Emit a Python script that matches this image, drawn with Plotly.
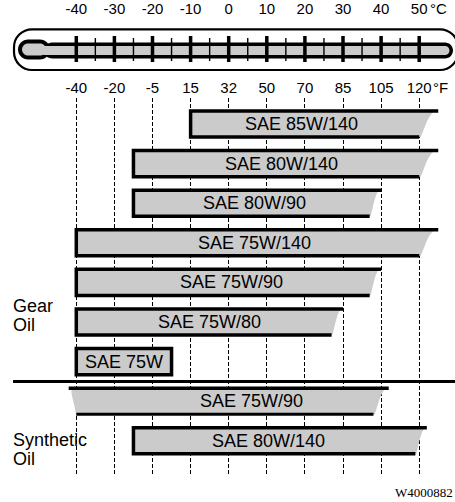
import plotly.graph_objects as go

# ---------------- data ----------------
celsius_ticks = [-40, -30, -20, -10, 0, 10, 20, 30, 40, 50]
celsius_labels = ["-40", "-30", "-20", "-10", "0", "10", "20", "30", "40", "50"]
fahrenheit_labels = ["-40", "-20", "-5", "15", "32", "50", "70", "85", "105", "120"]
minor_celsius = [-35, -25, -15, -5, 5, 15, 25, 35, 45]

gear_grades = ["SAE 85W/140", "SAE 80W/140", "SAE 80W/90", "SAE 75W/140",
               "SAE 75W/90", "SAE 75W/80", "SAE 75W"]
gear_low_c = [-10, -25, -25, -40, -40, -40, -40]
gear_high_c = [50, 50, 37, 50, 37, 27, -15]
gear_open_high_c = [55, 55, 40, 55, 40, 30, None]   # torn (open-ended) top edge

synthetic_grades = ["SAE 75W/90", "SAE 80W/140"]
synthetic_low_c = [-40, -25]
synthetic_high_c = [38, 49]
synthetic_open_high_c = [42, 52]
synthetic_open_low_c = [-42, None]

# ---------------- layout helpers ----------------
W, H = 455, 502
C0_PX, PX_PER_C = 228.7, 3.81
XMIN = -C0_PX / PX_PER_C
XMAX = (W - C0_PX) / PX_PER_C
ROW0_PX, ROW_STEP = 124.0, 39.6
PLOT_TOP, PLOT_BOT = 98, 476
HALF = 0.33
GRAY = "#cbcbcb"
FONT = "Liberation Sans, Arial, Helvetica, sans-serif"


def pxx(x):
    return x / W


def pxy(y):
    return 1 - y / H


def rounded(x0, x1, y0, y1, r):
    """rounded rectangle in paper coordinates, given pixel extents"""
    k = 0.5523 * r
    pts = [
        ("M", [(x0 + r, y0)]),
        ("L", [(x1 - r, y0)]),
        ("C", [(x1 - r + k, y0), (x1, y0 + r - k), (x1, y0 + r)]),
        ("L", [(x1, y1 - r)]),
        ("C", [(x1, y1 - r + k), (x1 - r + k, y1), (x1 - r, y1)]),
        ("L", [(x0 + r, y1)]),
        ("C", [(x0 + r - k, y1), (x0, y1 - r + k), (x0, y1 - r)]),
        ("L", [(x0, y0 + r)]),
        ("C", [(x0, y0 + r - k), (x0 + r - k, y0), (x0 + r, y0)]),
    ]
    s = ""
    for cmd, ps in pts:
        s += cmd + " " + " ".join(f"{pxx(a):.5f},{pxy(b):.5f}" for a, b in ps) + " "
    return s + "Z"


shapes = []
annotations = []

# ---------------- thermometer ----------------
shapes.append(dict(type="path", xref="paper", yref="paper",
                   path=rounded(14, 458, 29.3, 70, 18),
                   line=dict(color="black", width=2.2), fillcolor="white"))
# black outlines of bulb + tube
shapes.append(dict(type="path", xref="paper", yref="paper",
                   path=rounded(18, 50, 39.5, 59.5, 10), line=dict(width=0), fillcolor="black"))
shapes.append(dict(type="path", xref="paper", yref="paper",
                   path=rounded(44, 453, 42.5, 58.5, 8), line=dict(width=0), fillcolor="black"))
# gray interiors
shapes.append(dict(type="path", xref="paper", yref="paper",
                   path=rounded(22, 46, 43.5, 55.5, 6), line=dict(width=0), fillcolor=GRAY))
shapes.append(dict(type="path", xref="paper", yref="paper",
                   path=rounded(40, 449.5, 46, 55, 4.5), line=dict(width=0), fillcolor=GRAY))
for c in celsius_ticks:
    shapes.append(dict(type="line", xref="x", yref="paper", x0=c, x1=c,
                       y0=pxy(36), y1=pxy(62), line=dict(color="black", width=3.5)))
for c in minor_celsius:
    shapes.append(dict(type="line", xref="x", yref="paper", x0=c, x1=c,
                       y0=pxy(38), y1=pxy(61), line=dict(color="black", width=1.4)))


# ---------------- bars ----------------
def torn_right(x_open, x_high, yt, yb):
    d = x_open - x_high
    h = yb - yt
    return (f"L {x_open - 0.2 * d},{yt} "
            f"C {x_open - 0.55 * d},{yt + 0.2 * h} {x_open - 0.65 * d},{yt + 0.55 * h} "
            f"{x_open - 0.92 * d},{yb} ")


label_shift_px = [-3, 5, 3, 7, 9, 6, 0, 27, -6]

all_grades = gear_grades + synthetic_grades
all_low = gear_low_c + synthetic_low_c
all_high = gear_high_c + synthetic_high_c
all_open_high = gear_open_high_c + synthetic_open_high_c
all_open_low = [None] * len(gear_grades) + synthetic_open_low_c

for i, (g, lo, hi, oh, ol) in enumerate(zip(all_grades, all_low, all_high,
                                           all_open_high, all_open_low)):
    row = i
    yt, yb = row - HALF, row + HALF
    line = dict(color="black", width=3.5)
    if oh is None:
        # closed box
        shapes.append(dict(type="rect", xref="x", yref="y", x0=lo, x1=hi, y0=yt, y1=yb,
                           fillcolor=GRAY, line=line))
    elif ol is None:
        fill = f"M {lo},{yt} " + torn_right(oh, hi, yt, yb) + f"L {lo},{yb} Z"
        shapes.append(dict(type="path", xref="x", yref="y", path=fill,
                           fillcolor=GRAY, line=dict(width=0)))
        outline = f"M {oh},{yt} L {lo},{yt} L {lo},{yb} L {hi},{yb}"
        shapes.append(dict(type="path", xref="x", yref="y", path=outline, line=line))
    else:
        d = lo - ol
        fill = (f"M {ol + 0.35 * d},{yt} " + torn_right(oh, hi, yt, yb) +
                f"L {lo - 0.05 * d},{yb} C {ol + 0.8 * d},{yt + 0.6 * (yb - yt)} "
                f"{ol + 0.3 * d},{yt + 0.3 * (yb - yt)} {ol + 0.35 * d},{yt} Z")
        shapes.append(dict(type="path", xref="x", yref="y", path=fill,
                           fillcolor=GRAY, line=dict(width=0)))
        shapes.append(dict(type="line", xref="x", yref="y", x0=ol, x1=oh, y0=yt, y1=yt,
                           line=line))
        shapes.append(dict(type="line", xref="x", yref="y", x0=lo, x1=hi, y0=yb, y1=yb,
                           line=dict(color="black", width=3)))
    annotations.append(dict(x=(lo + hi) / 2, y=row, xref="x", yref="y", text=g,
                            showarrow=False, xshift=label_shift_px[i],
                            font=dict(size=18, family=FONT, color="black")))

# separator between gear oil and synthetic oil
shapes.append(dict(type="line", xref="paper", yref="y", x0=pxx(13), x1=1,
                   y0=len(gear_grades) - 0.5, y1=len(gear_grades) - 0.5,
                   line=dict(color="black", width=3)))

# side labels
for txt, ypx in [("Gear", 305.5), ("Oil", 324.5), ("Synthetic", 440), ("Oil", 459)]:
    annotations.append(dict(x=pxx(11), y=pxy(ypx), xref="paper", yref="paper", text=txt,
                            showarrow=False, xanchor="left", yanchor="middle",
                            font=dict(size=18, family=FONT, color="black")))

# units
annotations.append(dict(x=pxx(428), y=pxy(9), xref="paper", yref="paper", text="°C",
                        showarrow=False, xanchor="left", yanchor="middle",
                        font=dict(size=15, family=FONT, color="black")))
annotations.append(dict(x=pxx(431), y=pxy(87.5), xref="paper", yref="paper", text="°F",
                        showarrow=False, xanchor="left", yanchor="middle",
                        font=dict(size=15, family=FONT, color="black")))
annotations.append(dict(x=1, y=pxy(492.5), xref="paper", yref="paper", text="W4000882",
                        showarrow=False, xanchor="right", yanchor="middle",
                        font=dict(size=13, family="Liberation Serif, Times New Roman, serif",
                                  color="black")))

fig = go.Figure()
fig.add_trace(go.Scatter(x=all_low + all_high, y=list(range(len(all_grades))) * 2,
                         mode="markers", marker=dict(opacity=0), hoverinfo="skip",
                         showlegend=False, xaxis="x", yaxis="y"))
fig.add_trace(go.Scatter(x=celsius_ticks, y=[0] * len(celsius_ticks), mode="markers",
                         marker=dict(opacity=0), hoverinfo="skip", showlegend=False,
                         xaxis="x2", yaxis="y"))

yr_top = (PLOT_TOP - ROW0_PX) / ROW_STEP
yr_bot = (PLOT_BOT - ROW0_PX) / ROW_STEP

fig.update_layout(
    width=W, height=H,
    margin=dict(l=0, r=0, t=0, b=0),
    paper_bgcolor="white", plot_bgcolor="rgba(0,0,0,0)",
    showlegend=False,
    xaxis=dict(range=[XMIN, XMAX], side="top", anchor="free", position=pxy(16.5),
               tickvals=celsius_ticks, ticktext=celsius_labels, ticks="",
               showline=False, zeroline=False, showgrid=True, griddash="4px,2px",
               gridcolor="black", gridwidth=1, automargin=False, fixedrange=True,
               tickfont=dict(size=15, family=FONT, color="black")),
    xaxis2=dict(range=[XMIN, XMAX], overlaying="x", side="top", anchor="free",
                position=pxy(95.5), tickvals=celsius_ticks, ticktext=fahrenheit_labels,
                ticks="", showline=False, zeroline=False, showgrid=False,
                automargin=False, fixedrange=True,
                tickfont=dict(size=15, family=FONT, color="black")),
    yaxis=dict(range=[yr_bot, yr_top], domain=[pxy(PLOT_BOT), pxy(PLOT_TOP)],
               visible=False, showgrid=False, zeroline=False, fixedrange=True),
    shapes=shapes,
    annotations=annotations,
)

fig.write_html("out.html", config={"displayModeBar": False},
               post_script="document.body.style.margin='0';document.body.style.overflow='hidden';")
